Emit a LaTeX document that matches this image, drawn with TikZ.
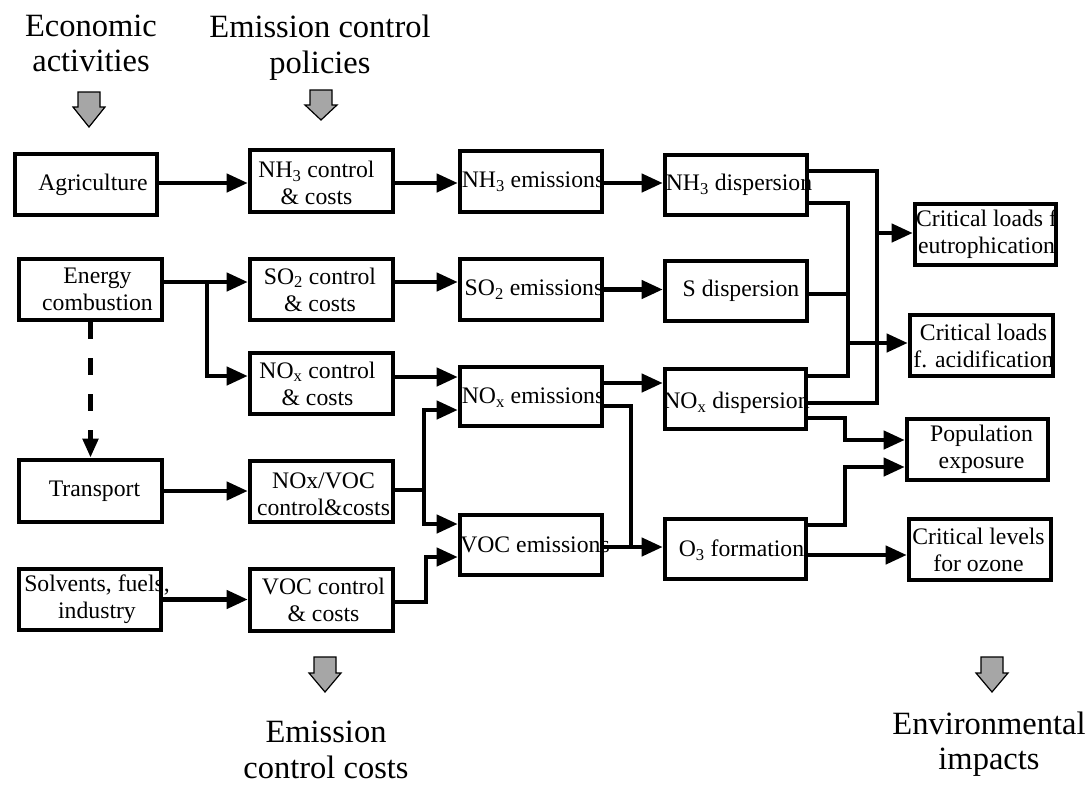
\documentclass[tikz,border=0pt]{standalone}
\usepackage{fontspec}
\setmainfont{Liberation Serif}
\usetikzlibrary{arrows.meta}
\pgfdeclarelayer{front}
\pgfsetlayers{main,front}
\begin{document}
\begin{tikzpicture}[x=1pt,y=-1pt,
  box/.style={draw, line width=4.6pt, minimum width=142pt, minimum height=61pt, inner sep=0pt},
  lbl/.style={font=\fontsize{23.7}{27}\selectfont, align=center, inner sep=0pt},
  head/.style={font=\fontsize{32.5}{35.5}\selectfont, align=center, inner sep=0pt},
  conn/.style={line width=4.2pt, -{Triangle[length=21pt,width=18pt]}},
  wire/.style={line width=4.2pt},
  dashconn/.style={line width=5pt, dash pattern=on 17pt off 19pt, -{Triangle[length=19pt,width=15pt]}},
  garrow/.style={draw, line width=1.2pt, fill=gray!70, line join=miter}]
\useasboundingbox (0,0) rectangle (1088,785);

% boxes (borders on the front layer)
\begin{pgfonlayer}{front}
\node[box] (agr)   at (86,184.5) {};
\node[box, minimum width=143pt, minimum height=62pt] (nh3c)  at (321.5,181) {};
\node[box] (nh3e)  at (531,181.5) {};
\node[box, minimum height=60pt] (nh3d)  at (736,185) {};
\node[box, minimum width=143pt] (en)    at (90.5,289.5) {};
\node[box, minimum width=143pt] (so2c)  at (321.5,289.5) {};
\node[box] (so2e)  at (531,289.5) {};
\node[box, minimum height=60pt] (sd)    at (736,291) {};
\node[box, minimum width=143pt] (noxc)  at (321.5,383.5) {};
\node[box, minimum height=59pt] (noxe)  at (531,396.5) {};
\node[box, minimum width=141pt, minimum height=60pt] (noxd)  at (735.5,399) {};
\node[box, minimum width=143pt, minimum height=62pt] (tr)    at (90.5,491) {};
\node[box, minimum width=143pt] (nvc)   at (321.5,491.5) {};
\node[box, minimum height=60pt] (voce)  at (531,545) {};
\node[box, minimum width=141pt, minimum height=60pt] (o3)    at (735.5,549) {};
\node[box] (sol)   at (90,599.5) {};
\node[box, minimum width=143pt, minimum height=62pt] (vocc)  at (321.5,600) {};
\node[box, minimum width=141pt] (eut)   at (985.5,234.5) {};
\node[box, minimum width=143pt] (acid)  at (981.5,345.5) {};
\node[box, minimum width=141pt] (pop)   at (977.5,449.5) {};
\node[box] (ozone) at (980,549.5) {};
\end{pgfonlayer}

% labels
\node[lbl] (agr-t)   at ([xshift=7pt]agr.center) {Agriculture};
\node[lbl] (nh3c-t)  at ([xshift=-5pt,yshift=-2pt]nh3c.center) {NH\textsubscript{3} control\\\& costs};
\node[lbl] (nh3e-t)  at ([xshift=2pt]nh3e.center) {NH\textsubscript{3} emissions};
\node[lbl] (nh3d-t)  at ([xshift=3pt]nh3d.center) {NH\textsubscript{3} dispersion};
\node[lbl] (en-t)    at ([xshift=7pt]en.center) {Energy\\combustion};
\node[lbl] (so2c-t)  at ([xshift=-1.5pt]so2c.center) {SO\textsubscript{2} control\\\& costs};
\node[lbl] (so2e-t)  at ([xshift=3pt]so2e.center) {SO\textsubscript{2} emissions};
\node[lbl] (sd-t)    at ([xshift=5pt]sd.center) {S dispersion};
\node[lbl] (noxc-t)  at ([xshift=-4pt]noxc.center) {NO\textsubscript{x} control\\\& costs};
\node[lbl] (noxe-t)  at ([xshift=2pt,yshift=-1.5pt]noxe.center) {NO\textsubscript{x} emissions};
\node[lbl] (noxd-t)  at ([xshift=1pt,yshift=-4pt]noxd.center) {NO\textsubscript{x} dispersion};
\node[lbl] (tr-t)    at ([xshift=4pt]tr.center) {Transport};
\node[lbl] (nvc-t)   at ([xshift=2pt,yshift=-3pt]nvc.center) {NOx/VOC\\control\&costs};
\node[lbl] (voce-t)  at ([xshift=4pt]voce.center) {VOC emissions};
\node[lbl] (o3-t)    at ([xshift=6pt,yshift=-1pt]o3.center) {O\textsubscript{3} formation};
\node[lbl] (sol-t)   at ([xshift=7pt]sol.center) {Solvents, fuels,\\industry};
\node[lbl] (vocc-t)  at ([xshift=2pt]vocc.center) {VOC control\\\& costs};
\node[lbl] (eut-t)   at ([xshift=1pt]eut.center) {Critical loads f\\eutrophication};
\node[lbl] (acid-t)  at ([xshift=2pt]acid.center) {Critical loads\\f. acidification};
\node[lbl] (pop-t)   at ([xshift=4pt]pop.center) {Population\\exposure};
\node[lbl] (ozone-t) at ([xshift=-1.5pt]ozone.center) {Critical levels\\for ozone};

% headers and footers
\node[head] (h-econ) at (91,43.5) {Economic\\activities};
\node[head] (h-pol)  at (320,47.5) {Emission control\\policies};
\node[head] (h-cost) at (326,750) {Emission\\control costs};
\node[head] (h-env)  at (989,744) {Environmental\\impacts};

% grey block arrows
\foreach \cx/\tp/\hb/\tip in {89/92/107/127, 321/90/105/120, 325/657/673/692, 992/657/673/692}
  \draw[garrow] (\cx-11,\tp) -- (\cx+11,\tp) -- (\cx+11,\hb) -- (\cx+16,\hb) -- (\cx,\tip) -- (\cx-16,\hb) -- (\cx-11,\hb) -- cycle;

% row NH3
\draw[conn] ([yshift=1.5pt]agr.east) -- ([yshift=1.5pt]agr.east -| nh3c.west);
\draw[conn] ([yshift=-2pt]nh3c.east) -- ([yshift=-2pt]nh3c.east -| nh3e.west);
\draw[conn] ([yshift=-1.5pt]nh3e.east) -- ([yshift=-1.5pt]nh3e.east -| nh3d.west);

% energy
\coordinate (jE) at (207,282);
\draw[conn] ([yshift=7.5pt]en.east) -- ([yshift=7.5pt]en.east -| so2c.west);
\draw[conn] (jE) |- ([yshift=7.5pt]noxc.west);
\draw[conn] ([yshift=7.5pt]so2c.east) -- ([yshift=7.5pt]so2c.east -| so2e.west);
\draw[conn] (so2e.east) -- (so2e.east -| sd.west);
\draw[conn] ([yshift=6.5pt]noxc.east) -- ([yshift=6.5pt]noxc.east -| noxe.west);

% transport
\draw[dashconn] (en.south) -- (tr.north);
\draw[conn] (tr.east) -- (tr.east -| nvc.west);
\coordinate (jNV) at (424,490);
\draw[wire] ([yshift=1.5pt]nvc.east) -- (jNV);
\draw[conn] (jNV) |- ([yshift=-13.5pt]noxe.west);
\draw[conn] (jNV) |- ([yshift=21pt]voce.west);

% solvents
\draw[conn] (sol.east) -- (sol.east -| vocc.west);
\coordinate (jVC) at (426,602);
\draw[conn] ([yshift=-2pt]vocc.east) -- (jVC) |- ([yshift=-12pt]voce.west);

% emissions to dispersion / formation
\draw[conn] ([yshift=13.5pt]noxe.east) -- ([yshift=13.5pt]noxe.east -| noxd.west);
\coordinate (jNO) at (631,406);
\coordinate (jNO2) at (631,547);
\draw[wire] ([yshift=-9.5pt]noxe.east) -- (jNO) -- (jNO2);
\draw[conn] ([yshift=-2pt]voce.east) -- ([yshift=-2pt]voce.east -| o3.west);

% eutrophication
\coordinate (jA) at (877,171);
\coordinate (jA2) at (877,403);
\coordinate (jAe) at (877,233);
\draw[wire] ([yshift=14pt]nh3d.east) -- (jA) -- (jA2) -- ([yshift=-4pt]noxd.east);
\draw[conn] (jAe) -- (jAe -| eut.west);

% acidification
\coordinate (jB) at (848,203);
\coordinate (jB2) at (848,376);
\coordinate (jBs) at (848,294);
\coordinate (jBa) at (848,343);
\draw[wire] ([yshift=-18pt]nh3d.east) -- (jB) -- (jB2) -- ([yshift=23pt]noxd.east);
\draw[wire] ([yshift=-3pt]sd.east) -- (jBs);
\draw[conn] (jBa) -- (jBa -| acid.west);

% population exposure
\coordinate (jC) at (845,418);
\draw[conn] ([yshift=-19pt]noxd.east) -- (jC) |- ([yshift=9.5pt]pop.west);
\coordinate (jD) at (845,525);
\draw[conn] ([yshift=24pt]o3.east) -- (jD) |- ([yshift=-17.5pt]pop.west);

% ozone
\draw[conn] ([yshift=-6pt]o3.east) -- ([yshift=-6pt]o3.east -| ozone.west);
\end{tikzpicture}
\end{document}
